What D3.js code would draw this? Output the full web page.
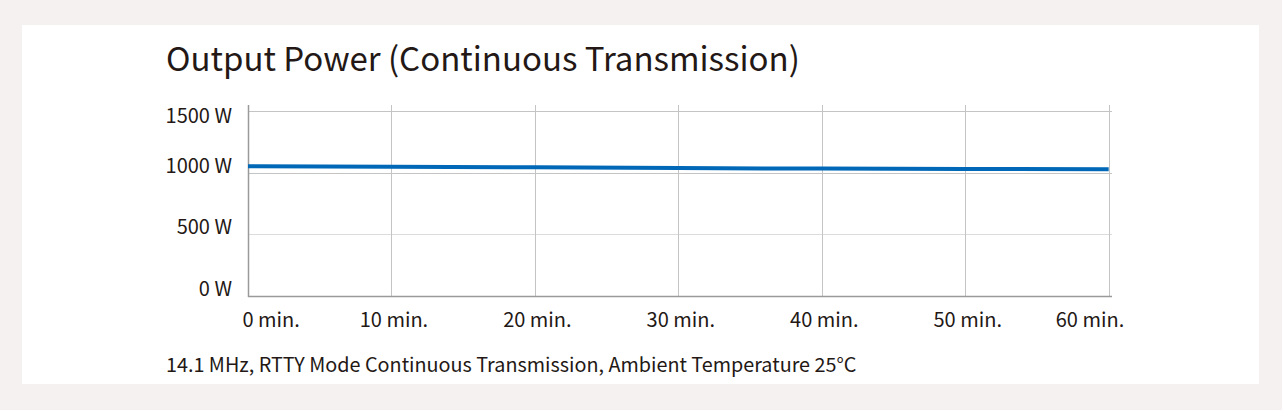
<!DOCTYPE html>
<html>
<head>
<meta charset="utf-8">
<script src="https://cdn.jsdelivr.net/npm/d3@7"></script>
<style>
html,body{margin:0;padding:0;background:#f5f1f1;}
svg{display:block;}
text{font-family:"Noto Sans CJK JP","Noto Sans",sans-serif;fill:#231815;}
</style>
</head>
<body>
<svg id="chart" width="1282" height="410"></svg>
<script>
const minutes = [0, 10, 20, 30, 40, 50, 60];
const powerW = [1053, 1048, 1043, 1037, 1033, 1030, 1028];
const yTicks = [0, 500, 1000, 1500];
const xTickLabels = ["0 min.", "10 min.", "20 min.", "30 min.", "40 min.", "50 min.", "60 min."];
const title = "Output Power (Continuous Transmission)";
const caption = "14.1 MHz, RTTY Mode Continuous Transmission, Ambient Temperature 25°C";

const svg = d3.select("#chart");
svg.append("rect").attr("x", 22).attr("y", 25).attr("width", 1237).attr("height", 359).attr("fill", "#ffffff");

const x = d3.scaleLinear().domain([0, 60]).range([248, 1108.7]);
const y = d3.scaleLinear().domain([0, 1500]).range([296, 111]);
const plotTop = 105, plotRight = 1112;

svg.append("text").attr("x", 166).attr("y", 71).attr("font-size", 33).text(title);

// horizontal grid
const hg = svg.append("g").attr("class", "hgrid");
hg.selectAll("line").data(yTicks.filter(d => d > 0)).join("line")
  .attr("x1", x(0)).attr("x2", plotRight)
  .attr("y1", d => Math.round(y(d)) + 0.5).attr("y2", d => Math.round(y(d)) + 0.5)
  .attr("stroke", d => d === 500 ? "#dcdcdc" : "#c4c4c4").attr("stroke-width", 1);

// vertical grid
const vg = svg.append("g").attr("class", "vgrid");
vg.selectAll("line").data(minutes.filter(d => d > 0)).join("line")
  .attr("x1", d => Math.round(x(d)) + 0.5).attr("x2", d => Math.round(x(d)) + 0.5)
  .attr("y1", plotTop).attr("y2", y(0))
  .attr("stroke", "#c4c4c4").attr("stroke-width", 1);

// axes via d3
const yAxis = d3.axisLeft(y).tickValues(yTicks).tickSize(0).tickFormat(d => d + " W");
const gy = svg.append("g").attr("transform", `translate(${x(0) - 13},0)`).call(yAxis);
gy.select(".domain").remove();
gy.selectAll("text").attr("font-size", 20).attr("fill", "#231815")
  .attr("font-family", '"Noto Sans CJK JP","Noto Sans",sans-serif')
  .attr("dy", d => d === 1500 ? "0.55em" : "-0.02em");

const xAxis = d3.axisBottom(x).tickValues(minutes).tickSize(0).tickFormat((d, i) => xTickLabels[i]);
const gx = svg.append("g").attr("transform", `translate(0,${y(0)})`).call(xAxis);
gx.select(".domain").remove();
gx.selectAll("text").attr("font-size", 20).attr("fill", "#231815")
  .attr("font-family", '"Noto Sans CJK JP","Noto Sans",sans-serif')
  .attr("y", 17).attr("dy", "0.71em")
  .attr("text-anchor", (d, i) => i === 0 ? "start" : (i === minutes.length - 1 ? "end" : "middle"))
  .attr("x", (d, i) => i === 0 ? -6 : (i === minutes.length - 1 ? 15 : 2));

// axis lines
svg.append("line").attr("x1", x(0) + 0.5).attr("x2", x(0) + 0.5).attr("y1", plotTop).attr("y2", y(0) + 1)
  .attr("stroke", "#9a9a9a").attr("stroke-width", 1.5);
svg.append("line").attr("x1", x(0)).attr("x2", plotRight).attr("y1", y(0) + 0.5).attr("y2", y(0) + 0.5)
  .attr("stroke", "#9a9a9a").attr("stroke-width", 1.5);

// data line
const line = d3.line().x((d, i) => x(minutes[i])).y(d => y(d));
svg.append("path").datum(powerW).attr("d", line)
  .attr("fill", "none").attr("stroke", "#0068b7").attr("stroke-width", 4);

svg.append("text").attr("x", 166).attr("y", 372).attr("font-size", 19.8).text(caption);
</script>
</body>
</html>
